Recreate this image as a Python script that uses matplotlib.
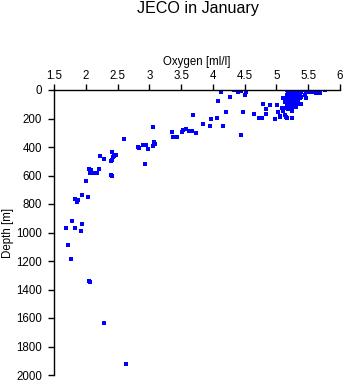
import matplotlib
matplotlib.use("Agg")
import matplotlib.pyplot as plt

title = "JECO in January"
xlabel = "Oxygen [ml/l]"
ylabel = "Depth [m]"
xticks = [1.5, 2, 2.5, 3, 3.5, 4, 4.5, 5, 5.5, 6]
xticklabels = ["1.5", "2", "2.5", "3", "3.5", "4", "4.5", "5", "5.5", "6"]
yticks = [0, 200, 400, 600, 800, 1000, 1200, 1400, 1600, 1800, 2000]

# deep / mid-depth samples
oxy_deep = [2.64, 2.28, 2.055, 2.07, 1.76, 1.72, 1.69, 1.83, 1.79, 1.935, 1.93,
            1.86, 1.87, 1.835, 1.935, 2.04, 2.01, 2.066, 2.09, 2.12, 2.17, 2.21,
            2.055, 2.396, 2.417, 2.40, 2.29, 2.22, 2.42, 2.43, 2.45, 2.47, 2.41,
            2.60, 2.826, 2.84, 2.90, 2.947, 2.98, 3.06, 3.07, 3.09, 2.93, 3.06, 3.08]
dep_deep = [1926, 1633, 1339, 1350, 1184, 1086, 971, 971, 922, 943, 990,
            784, 772, 763, 737, 753, 641, 585, 564, 585, 580, 557,
            557, 597, 606, 496, 487, 463, 437, 473, 465, 456, 494,
            346, 398, 407, 386, 386, 416, 393, 370, 379, 519, 262, 367]

# thermocline samples
oxy_mid = [3.36, 3.375, 3.44, 3.52, 3.53, 3.575, 3.62, 3.665, 3.73, 3.69, 3.85,
           3.97, 4.07, 3.96, 4.08, 4.16, 4.445, 4.12, 4.34, 4.39, 4.445, 4.52,
           4.50, 4.27, 4.21, 4.48, 4.645, 4.79, 4.83, 4.90, 5.01, 5.03, 4.83,
           4.72, 4.77, 4.98, 5.05, 5.05]
dep_mid = [297, 332, 332, 297, 281, 276, 288, 288, 300, 176, 241,
           204, 199, 253, 77, 253, 316, 12, 2, 12, 7, 12,
           35, 51, 152, 152, 171, 100, 135, 105, 105, 152, 171,
           199, 199, 206, 187, 183]

# surface mixed layer samples
oxy_surf = [5.08, 5.13, 5.18, 5.24, 5.10, 5.24, 5.16, 5.24, 5.13, 5.17, 5.15,
            5.16, 5.21, 5.26, 5.31, 5.37, 5.42, 5.47, 5.52, 5.58, 5.67, 5.76, 5.68, 5.66,
            5.10, 5.16, 5.21, 5.26, 5.31, 5.37, 5.45, 5.47, 5.39,
            5.13, 5.18, 5.24, 5.29, 5.34, 5.26, 5.31,
            5.13, 5.18, 5.24, 5.29, 5.34, 5.39,
            5.18, 5.24, 5.29, 5.34, 5.39, 5.21, 5.16, 5.37,
            5.21, 5.16, 5.26, 5.31, 5.63]
dep_surf = [124, 129, 133, 133, 147, 147, 199, 199, 176, 199, 187,
            0, 0, 0, 0, 0, 0, 7, 12, 12, 7, 0, 23, 16,
            54, 35, 30, 35, 35, 30, 35, 54, 47,
            70, 70, 70, 70, 70, 59, 54,
            87, 87, 94, 94, 101, 101,
            16, 16, 16, 16, 16, 54, 54, 54,
            110, 110, 110, 117, 23]

W, H = 345, 384
fig = plt.figure(figsize=(W / 100, H / 100), dpi=100)
ax = fig.add_axes([54 / W, 1 - 375 / H, (340 - 54) / W, (375 - 90) / H])

for ox, dp in [(oxy_deep, dep_deep), (oxy_mid, dep_mid), (oxy_surf, dep_surf)]:
    ax.scatter(ox, dp, s=5.5, marker="s", color="#0000ff", linewidths=0)

ax.set_xlim(1.5, 6)
ax.set_ylim(2000, 0)
ax.xaxis.tick_top()
ax.xaxis.set_label_position("top")
ax.set_xticks(xticks)
ax.set_xticklabels(xticklabels)
ax.set_yticks(yticks)
for s in ["right", "bottom"]:
    ax.spines[s].set_visible(False)
for s in ["top", "left"]:
    ax.spines[s].set_linewidth(1.0)
ax.tick_params(axis="x", direction="out", length=4, width=1, labelsize=8.3, pad=2)
ax.tick_params(axis="y", direction="out", length=4.5, width=1, labelsize=8.3, pad=4)
fam = ["Liberation Sans", "DejaVu Sans"]
for lab in ax.get_xticklabels() + ax.get_yticklabels():
    lab.set_family(fam)
ax.set_xlabel(xlabel, fontsize=8.3, family=fam, labelpad=3)
ax.set_ylabel(ylabel, fontsize=8.3, family=fam, labelpad=2)
fig.text(0.573, 1 - 9 / H, title, ha="center", va="center", fontsize=11.6, family=fam)

fig.savefig("out.png", dpi=100)
